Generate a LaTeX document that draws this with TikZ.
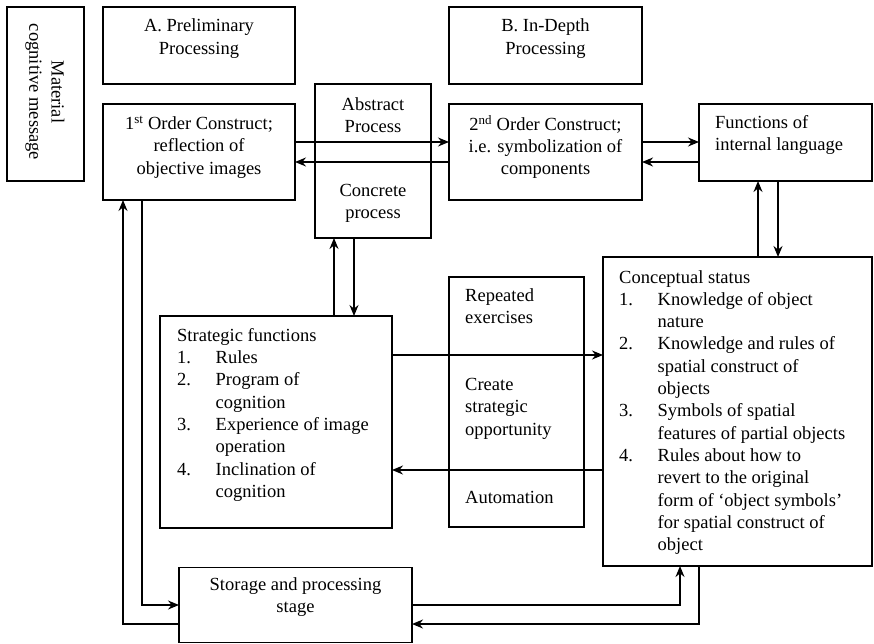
\documentclass[tikz,border=0pt]{standalone}
\usepackage{fontspec}
\setmainfont{Liberation Serif}
\usetikzlibrary{arrows.meta}
\newcommand\fs{\fontsize{18.5}{22.3}\selectfont}
\newcommand\lstnum[1]{\makebox[38.5pt][l]{#1}}
\newcommand\lstind{\hspace*{38.5pt}}
\begin{document}
\begin{tikzpicture}[x=1pt,y=-1pt]
\tikzset{
  box/.style={draw, line width=1.4pt, inner sep=0pt, outer sep=0pt},
  txt/.style={font=\fs, inner sep=0pt, align=center},
  ltxt/.style={font=\fs, inner sep=0pt, align=left},
  link/.style={line width=1.4pt, -{Stealth[length=11pt,width=9pt]}},
}
\useasboundingbox (0,0) rectangle (874,644);

% boxes
\node[box, minimum width=77pt,  minimum height=174pt] (mat)    at (45.5,94)   {};
\node[box, minimum width=192pt, minimum height=77pt]  (prelim) at (199,45.5)  {};
\node[box, minimum width=192pt, minimum height=96pt]  (first)  at (199,152)   {};
\node[box, minimum width=116pt, minimum height=154pt] (proc)   at (373,161)   {};
\node[box, minimum width=193pt, minimum height=77pt]  (depth)  at (545.5,45.5){};
\node[box, minimum width=193pt, minimum height=96pt]  (second) at (545.5,152) {};
\node[box, minimum width=173pt, minimum height=77pt]  (func)   at (785.5,142.5){};
\node[box, minimum width=269pt, minimum height=309pt] (concept) at (737.5,411.5){};
\node[box, minimum width=232pt, minimum height=212pt] (strat)  at (276,422)   {};
\node[box, minimum width=135pt, minimum height=250pt] (rep)    at (516.5,402) {};
\node[box, minimum width=233pt, minimum height=75pt]  (store)  at (295.5,605) {};

% texts
\node[txt, rotate=-90] (matT) at (45,92) {Material\\cognitive message};
\node[txt] (prelimT) at (199,38.5) {A. Preliminary\\Processing};
\node[txt] (depthT) at (545.5,38.5) {B. In-Depth\\Processing};
\node[txt] (firstT) at (199,147) {1\textsuperscript{st} Order Construct;\\reflection of\\objective images};
\node[txt] (absT) at (373,115) {Abstract\\Process};
\node[txt] (conT) at (373,203) {Concrete\\process};
\node[txt] (secondT) at (545.5,147) {2\textsuperscript{nd} Order Construct;\\i.e. symbolization of\\components};
\node[ltxt, anchor=west] (funcT) at (715,135) {Functions of\\internal language};
\node[ltxt, anchor=north west] (conceptT) at (619,270) {Conceptual status\\
  \lstnum{1.}Knowledge of object\\ \lstind nature\\
  \lstnum{2.}Knowledge and rules of\\ \lstind spatial construct of\\ \lstind objects\\
  \lstnum{3.}Symbols of spatial\\ \lstind features of partial objects\\
  \lstnum{4.}Rules about how to\\ \lstind revert to the original\\ \lstind form of ‘object symbols’\\ \lstind for spatial construct of\\ \lstind object};
\node[ltxt, anchor=north west] (stratT) at (177,328) {Strategic functions\\
  \lstnum{1.}Rules\\
  \lstnum{2.}Program of\\ \lstind cognition\\
  \lstnum{3.}Experience of image\\ \lstind operation\\
  \lstnum{4.}Inclination of\\ \lstind cognition};
\node[ltxt, anchor=north west] (repA) at (465,288) {Repeated\\exercises};
\node[ltxt, anchor=north west] (repB) at (465,378) {Create\\strategic\\opportunity};
\node[ltxt, anchor=north west] (repC) at (465,491) {Automation};
\node[txt] (storeT) at (295.5,597) {Storage and processing\\stage};

% connectors
\draw[link] ([yshift=10pt]first.east) -- ([yshift=10pt]second.west);
\draw[link] ([yshift=-10pt]second.west) -- ([yshift=-10pt]first.east);
\draw[link] ([yshift=10pt]second.east) -- ([yshift=10pt]second.east -| func.west);
\draw[link] ([yshift=-10pt]second.east -| func.west) -- ([yshift=-10pt]second.east);
\draw[link] ([xshift=-27.5pt]func.south |- concept.north) -- ([xshift=-27.5pt]func.south);
\draw[link] ([xshift=-7.5pt]func.south) -- ([xshift=-7.5pt]func.south |- concept.north);
\draw[link] ([xshift=-39pt]proc.south |- strat.north) -- ([xshift=-39pt]proc.south);
\draw[link] ([xshift=-19pt]proc.south) -- ([xshift=-19pt]proc.south |- strat.north);
\draw[link] ([yshift=67pt]strat.east) -- ([yshift=67pt]strat.east -| concept.west);
\draw[link] ([yshift=-48pt]strat.east -| concept.west) -- ([yshift=-48pt]strat.east);
\draw[link] ([xshift=-57pt]first.south) |- (store.west);
\draw[link] ([yshift=-19pt]store.west) -| ([xshift=-76pt]first.south);
\draw[link] (store.east) -| ([xshift=-57.5pt]concept.south);
\draw[link] ([xshift=-38.5pt]concept.south) |- ([yshift=-19pt]store.east);
\end{tikzpicture}
\end{document}
